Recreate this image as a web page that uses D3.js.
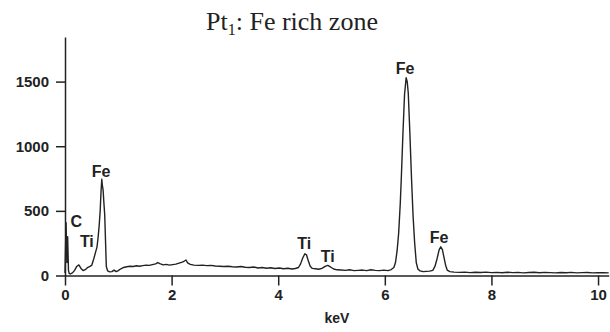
<!DOCTYPE html>
<html>
<head>
<meta charset="utf-8">
<script src="https://cdn.jsdelivr.net/npm/d3@7/dist/d3.min.js"></script>
<style>
  html, body { margin: 0; padding: 0; background: #fff; }
  svg { display: block; }
  .tick text, .axis-label, .peak-label { font-family: "Liberation Sans", Arial, sans-serif; font-weight: bold; fill: #222; }
</style>
</head>
<body>
<svg id="chart" width="610" height="332"></svg>
<script>
// EDS spectrum: energy (keV) and counts
const energy = [
  0.00, 0.02, 0.035, 0.05, 0.065, 0.08, 0.10, 0.14, 0.18, 0.22, 0.26, 0.30, 0.34, 0.38, 0.42, 0.46, 0.50,
  0.54, 0.57, 0.60, 0.62, 0.64, 0.66, 0.675, 0.69, 0.70, 0.715, 0.73, 0.745, 0.76, 0.775, 0.80, 0.84, 0.88, 0.92,
  0.96, 1.00, 1.04, 1.10, 1.16, 1.22, 1.28, 1.34, 1.40, 1.46, 1.52, 1.58, 1.64, 1.70, 1.74, 1.78, 1.84, 1.90,
  1.96, 2.02, 2.08, 2.14, 2.20, 2.24, 2.27, 2.30, 2.35, 2.42, 2.50, 2.58, 2.66, 2.74, 2.82, 2.90, 2.98, 3.06,
  3.14, 3.22, 3.30, 3.38, 3.46, 3.54, 3.62, 3.70, 3.78, 3.86, 3.94, 4.02, 4.10, 4.18, 4.26, 4.32, 4.38, 4.42,
  4.46, 4.50, 4.53, 4.56, 4.60, 4.64, 4.70, 4.76, 4.82, 4.88, 4.93, 4.98, 5.04, 5.10, 5.18, 5.26, 5.34, 5.42,
  5.50, 5.58, 5.66, 5.74, 5.82, 5.90, 5.98, 6.06, 6.12, 6.17, 6.20, 6.23, 6.26, 6.29, 6.31, 6.34, 6.37, 6.40,
  6.42, 6.44, 6.47, 6.50, 6.53, 6.56, 6.59, 6.62, 6.66, 6.72, 6.78, 6.84, 6.90, 6.94, 6.98, 7.02, 7.05, 7.08,
  7.11, 7.14, 7.17, 7.22, 7.30, 7.40, 7.50, 7.60, 7.70, 7.80, 7.90, 8.00, 8.10, 8.20, 8.30, 8.40, 8.50, 8.60,
  8.70, 8.80, 8.90, 9.00, 9.10, 9.20, 9.30, 9.40, 9.50, 9.60, 9.70, 9.80, 9.90, 10.00, 10.10, 10.20
];
const counts = [
  20, 408, 100, 300, 40, 15, 12, 20, 40, 70, 82, 55, 38, 45, 60, 68, 78,
  130, 175, 220, 290, 380, 500, 640, 745, 700, 660, 560, 470, 270, 70, 35, 28, 30, 42,
  30, 38, 50, 62, 68, 72, 70, 75, 72, 76, 80, 78, 84, 90, 100, 92, 82, 86,
  80, 84, 88, 96, 104, 112, 120, 98, 86, 80, 78, 80, 76, 78, 74, 72, 70, 72,
  68, 66, 70, 64, 62, 66, 58, 62, 56, 60, 54, 58, 52, 56, 50, 54, 62, 90,
  135, 168, 160, 120, 72, 55, 52, 48, 55, 70, 78, 66, 50, 44, 42, 40, 44, 38,
  40, 42, 38, 44, 40, 38, 42, 38, 46, 62, 100, 190, 330, 560, 760, 1100, 1400, 1530,
  1500, 1410, 1100, 760, 460, 250, 100, 50, 36, 30, 32, 34, 40, 70, 130, 200, 222, 200,
  140, 80, 42, 30, 26, 24, 26, 22, 25, 23, 26, 22, 24, 21, 25, 22, 24, 20, 23, 25,
  21, 24, 22, 20, 23, 21, 24, 20, 22, 23, 20, 22, 21, 20, 22, 21
];

// Element labels: text, energy position, count level of the baseline
const labelText = ["C", "Ti", "Fe", "Ti", "Ti", "Fe", "Fe"];
const labelEnergy = [0.21, 0.41, 0.675, 4.49, 4.93, 6.38, 7.02];
const labelLevel = [375, 223, 764, 205, 107, 1558, 251];

const xTicks = [0, 2, 4, 6, 8, 10];
const yTicks = [0, 500, 1000, 1500];

const svg = d3.select("#chart");

const x = d3.scaleLinear().domain([0, 10.2]).range([65, 608.7]);
const y = d3.scaleLinear().domain([0, 1845]).range([275.5, 37]);

// title
const title = svg.append("text")
  .attr("x", 292).attr("y", 30)
  .attr("text-anchor", "middle")
  .style("font-family", "'Liberation Serif', 'Times New Roman', serif")
  .style("font-size", "26px")
  .style("fill", "#222");
title.append("tspan").text("Pt");
title.append("tspan").attr("dy", 5).style("font-size", "16px").text("1");
title.append("tspan").attr("dy", -5).text(": Fe rich zone");

// spectrum trace
const pts = energy.map((e, i) => [e, counts[i]]);
svg.append("path")
  .datum(pts)
  .attr("fill", "none")
  .attr("stroke", "#222")
  .attr("stroke-width", 1.4)
  .attr("stroke-linejoin", "round")
  .attr("d", d3.line().x(d => x(d[0])).y(d => y(d[1])));

// axes
const yAxis = svg.append("g")
  .attr("transform", `translate(${x(0)},0)`)
  .call(d3.axisLeft(y).tickValues(yTicks).tickFormat(d3.format("d")).tickSize(9).tickSizeOuter(0).tickPadding(7));
const xAxis = svg.append("g")
  .attr("transform", `translate(0,${y(0)})`)
  .call(d3.axisBottom(x).tickValues(xTicks).tickFormat(d3.format("d")).tickSize(10).tickSizeOuter(0).tickPadding(4));

[yAxis, xAxis].forEach(g => {
  g.selectAll("path, line").attr("stroke", "#222").attr("stroke-width", 1.5);
  g.selectAll("text").style("font-size", "15px");
});

svg.append("text")
  .attr("class", "axis-label")
  .attr("x", x(5.1)).attr("y", 323)
  .attr("text-anchor", "middle")
  .style("font-size", "14px")
  .text("keV");

// element labels
svg.selectAll("text.peak-label")
  .data(labelText)
  .join("text")
  .attr("class", "peak-label")
  .attr("x", (d, i) => x(labelEnergy[i]))
  .attr("y", (d, i) => y(labelLevel[i]))
  .attr("text-anchor", "middle")
  .style("font-size", "16px")
  .text(d => d);
</script>
</body>
</html>
